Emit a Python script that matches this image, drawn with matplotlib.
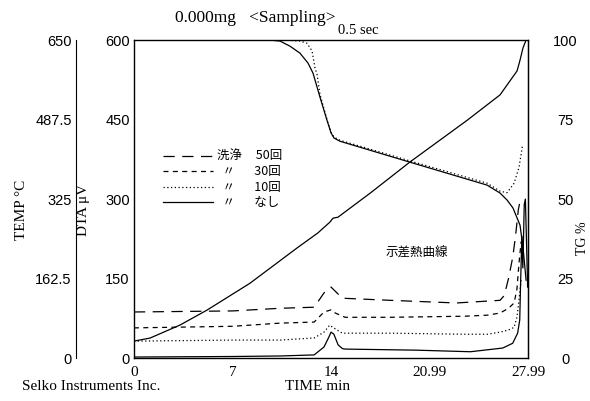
import matplotlib
matplotlib.use("Agg")
import matplotlib.pyplot as plt

plt.rcParams['font.family'] = ['Liberation Serif', 'Noto Sans CJK JP', 'DejaVu Sans']
numfont = ['Liberation Sans Narrow', 'Liberation Sans', 'DejaVu Sans']

# time axis (min)
xticks = [0, 7, 14, 20.99, 27.99]
xlabels = ['0', '7', '14', '20.99', '27.99']

# temperature curve (deg C)
temp_t = [0, 1.14, 3.27, 5.19, 8.24, 11.58, 13.07, 13.92, 14.14, 14.49, 16.77, 19.61, 23.66, 26.0, 27.21, 27.42, 27.63, 27.85]
temp_v = [34.7, 40.9, 67.5, 98.1, 153, 225, 256, 278, 286, 288, 337, 401, 486, 538, 587, 609, 634, 650]

# TG curves (%)
tg_t = [0, 9.66, 10.37, 11.08, 11.79, 12.36, 12.72, 13.21, 13.71, 14.0, 14.21, 14.63, 19.61, 25.08, 26.0, 26.5, 26.92, 27.42, 27.63, 27.85]
tg_v = [100, 100, 99.7, 98.1, 95.9, 92.8, 89.6, 82.1, 74.8, 70.8, 69.2, 68.2, 61.6, 54.4, 51.9, 49.7, 47.2, 41.8, 34.9, 24.5]
tg2_t = [0, 10.8, 11.8, 12.29, 12.65, 12.86, 13.0, 13.21, 13.71, 14.0, 14.21, 14.63, 19.61, 25.08, 26.0, 26.5, 27.0, 27.35, 27.6]
tg2_v = [100, 100, 99.7, 99.0, 96.6, 91.2, 89.3, 83.0, 75.0, 71.0, 69.5, 68.5, 62.0, 55.0, 52.5, 52.0, 55.0, 60.0, 67.0]

# DTA curves (uV)
d50_t = [0, 7, 10.4, 12.8, 13.5, 14.0, 14.8, 18.2, 22.9, 26.0, 26.3, 26.6, 26.9, 27.1, 27.3, 27.45]
d50_v = [87, 89, 94, 96, 123, 134, 113, 109, 104, 109, 118, 150, 190, 230, 280, 300]
d30_t = [0, 7, 10.4, 12.8, 13.5, 14.0, 14.3, 15.0, 18.2, 23.5, 25.1, 26.0, 26.6, 27.0, 27.2, 27.35, 27.5]
d30_v = [57, 60, 66, 68, 87, 91, 85, 77, 77, 79, 81, 85, 94, 104, 130, 180, 220]
d10_t = [0, 7, 10.4, 12.8, 13.5, 13.9, 14.3, 14.8, 18.2, 23.5, 25.1, 26.0, 26.6, 27.0, 27.2, 27.35, 27.5]
d10_v = [32, 34, 34, 38, 49, 62, 55, 47, 47, 45, 45, 49, 53, 58, 77, 110, 150]
d0_t = [0, 7, 10.4, 12.8, 13.5, 13.85, 14.0, 14.2, 14.5, 14.8, 15.0, 20.0, 23.9, 26.2, 26.9, 27.25, 27.4, 27.45, 27.55, 27.62, 27.72, 27.8, 27.9, 27.96]
d0_v = [2, 3, 4, 6, 21, 40, 49, 45, 25, 18, 17, 15, 12, 19, 28, 47, 72, 130, 230, 170, 290, 300, 200, 134]

legend_labels = ['洗浄     50回', '  〃       30回', '  〃       10回', '  〃       なし']

fig = plt.figure(figsize=(5.9, 4.01), dpi=100)
ax = fig.add_axes([0.227, 0.107, 0.668, 0.793])

lw = 0.9
l50, = ax.plot(d50_t, d50_v, color='black', lw=lw, dashes=(9, 6))
l30, = ax.plot(d30_t, d30_v, color='black', lw=lw, dashes=(4, 3.5))
l10, = ax.plot(d10_t, d10_v, color='black', lw=lw, dashes=(1, 2))
l0, = ax.plot(d0_t, d0_v, color='black', lw=lw)

ax.set_xlim(0, 27.99)
ax.set_ylim(0, 600)
ax.set_xticks(xticks)
ax.set_xticklabels(xlabels, fontsize=11)
ax.set_yticks([0, 150, 300, 450, 600])
ax.tick_params(axis='both', length=0)
ax.tick_params(axis='x', pad=6)
ax.tick_params(axis='y', pad=3, labelsize=10.5)
for lab in ax.get_yticklabels():
    lab.set_family(numfont)
for s in ax.spines.values():
    s.set_linewidth(1.0)
ax.set_xlabel('TIME min', fontsize=11)
ax.xaxis.set_label_coords(0.467, -0.07)
ax.set_ylabel('DTA μV', fontsize=11)
ax.yaxis.set_label_coords(-0.112, 0.465)

# temperature axis
ax_t = ax.twinx()
ax_t.plot(temp_t, temp_v, color='black', lw=lw)
ax_t.set_ylim(0, 650)
ax_t.set_yticks([0, 162.5, 325, 487.5, 650])
ax_t.spines['left'].set_position(('axes', -0.147))
ax_t.spines['left'].set_visible(True)
ax_t.spines['right'].set_visible(False)
ax_t.spines['top'].set_visible(False)
ax_t.spines['bottom'].set_visible(False)
ax_t.yaxis.set_ticks_position('left')
ax_t.yaxis.set_label_position('left')
ax_t.tick_params(axis='y', length=0, pad=3, labelsize=10.5)
ax_t.set_yticklabels(['0', '162.5', '325', '487.5', '650'])
for lab in ax_t.get_yticklabels():
    lab.set_family(numfont)
ax_t.set_ylabel('TEMP °C', fontsize=11)
ax_t.yaxis.set_label_coords(-0.269, 0.465)

# TG axis
ax_g = ax.twinx()
ax_g.plot(tg_t, tg_v, color='black', lw=lw)
ax_g.plot(tg2_t, tg2_v, color='black', lw=lw, dashes=(1, 2))
ax_g.set_ylim(0, 100)
ax_g.set_yticks([0, 25, 50, 75, 100])
for s in ['left', 'top', 'bottom']:
    ax_g.spines[s].set_visible(False)
ax_g.tick_params(axis='y', length=0, pad=27, labelsize=10.5)
for lab in ax_g.get_yticklabels():
    lab.set_horizontalalignment('center')
    lab.set_family(numfont)
ax_g.set_ylabel('TG %', fontsize=10, rotation=90)
ax_g.yaxis.set_label_coords(1.122, 0.377)

leg = ax.legend([l50, l30, l10, l0], legend_labels, loc='upper left',
                bbox_to_anchor=(0.045, 0.69), frameon=False,
                handlelength=4.0, handletextpad=0.3, labelspacing=0.2,
                prop={'family': ['Noto Sans CJK JP', 'DejaVu Sans'], 'size': 9})

ax.text(0.718, 0.33, '示差熱曲線', transform=ax.transAxes, ha='center', va='center',
        fontsize=9, family=['Noto Sans CJK JP', 'DejaVu Sans'])

fig.text(175 / 590, 1 - 18 / 401, '0.000mg   <Sampling>', va='center', ha='left', fontsize=12.5)
fig.text(338 / 590, 1 - 31 / 401, '0.5 sec', va='center', ha='left', fontsize=10.5)
fig.text(22 / 590, 1 - 386 / 401, 'Selko Instruments Inc.', va='center', ha='left', fontsize=11)

fig.savefig('out.png', dpi=100)
